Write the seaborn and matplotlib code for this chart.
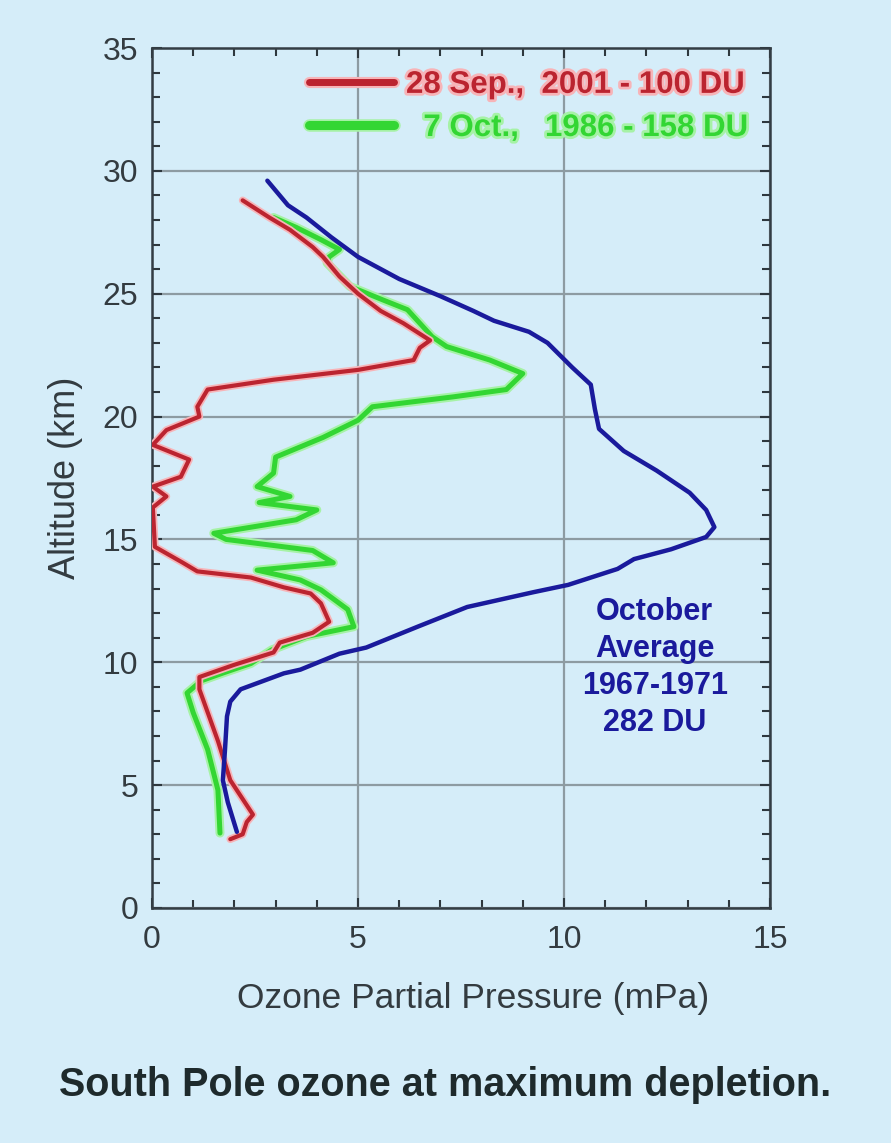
import numpy as np
import pandas as pd
import matplotlib
matplotlib.use("Agg")
import matplotlib.pyplot as plt
import matplotlib.patheffects as pe
from matplotlib.lines import Line2D
from matplotlib.ticker import MultipleLocator
import seaborn as sns

# South Pole ozonesondes, altitude (km) vs ozone partial pressure (mPa)
avg_alt = [29.6, 28.6, 28.1, 27.3, 26.5, 25.6, 24.9, 24.3, 23.9, 23.45, 23.0,
           22.0, 21.3, 20.3, 19.5, 18.6, 17.8, 16.9, 16.2, 15.5, 15.1, 14.6,
           14.2, 13.8, 13.15, 12.85, 12.25, 11.45, 10.6, 10.35, 9.7, 9.55,
           8.9, 8.4, 7.8, 6.4, 5.2, 4.3, 3.1]
avg_o3 = [2.8, 3.3, 3.75, 4.35, 5.0, 6.0, 7.0, 7.8, 8.3, 9.15, 9.6,
          10.2, 10.65, 10.75, 10.85, 11.45, 12.25, 13.05, 13.45, 13.65, 13.45, 12.6,
          11.7, 11.3, 10.1, 9.25, 7.65, 6.45, 5.2, 4.55, 3.6, 3.2,
          2.15, 1.9, 1.82, 1.77, 1.72, 1.84, 2.06]

sep2001_alt = [28.8, 28.1, 27.6, 26.9, 26.5, 25.7, 25.0, 24.3, 23.8, 23.1, 22.8,
               22.3, 21.9, 21.5, 21.1, 20.4, 20.0, 19.45, 18.85, 18.25, 17.55,
               17.15, 16.75, 16.3, 14.7, 14.05, 13.7, 13.45, 13.05, 12.8, 12.4,
               11.65, 11.2, 10.8, 10.4, 9.9, 9.4, 8.9, 6.8, 5.2, 3.8, 3.5, 3.0, 2.8]
sep2001_o3 = [2.2, 2.85, 3.35, 3.9, 4.15, 4.55, 5.0, 5.55, 6.1, 6.75, 6.5,
              6.35, 5.0, 2.95, 1.35, 1.1, 1.15, 0.35, 0.02, 0.9, 0.7,
              0.02, 0.35, 0.02, 0.07, 0.75, 1.1, 2.4, 3.2, 3.85, 4.1,
              4.3, 3.9, 3.1, 2.95, 2.0, 1.15, 1.15, 1.6, 1.9, 2.45, 2.3, 2.2, 1.9]

oct1986_alt = [28.1, 27.7, 27.2, 26.8, 26.5, 26.25, 25.3, 24.75, 24.35, 23.25,
               22.85, 22.3, 21.75, 21.1, 20.8, 20.4, 19.85, 19.15, 18.35, 17.7,
               17.15, 16.75, 16.5, 16.2, 15.8, 15.25, 15.0, 14.55, 14.05, 13.75,
               13.35, 12.95, 12.15, 11.45, 11.05, 10.5, 9.95, 9.55, 9.25, 8.75,
               7.95, 6.45, 4.8, 3.05]
oct1986_o3 = [2.95, 3.5, 4.1, 4.55, 4.3, 4.25, 4.8, 5.6, 6.2, 6.8,
              7.15, 8.2, 9.0, 8.6, 7.3, 5.35, 5.0, 4.15, 3.0, 2.95,
              2.55, 3.35, 2.6, 4.0, 3.5, 1.5, 1.8, 3.9, 4.4, 2.55,
              3.6, 4.1, 4.75, 4.9, 3.75, 2.9, 2.4, 1.7, 1.2, 0.85,
              1.0, 1.35, 1.6, 1.65]

labels = ["28 Sep.,  2001 - 100 DU", "  7 Oct.,   1986 - 158 DU"]
avg_label = "October\nAverage\n1967-1971\n282 DU"

bg = "#d5edf9"
red, red_glow = "#bb2430", "#f7b4b8"
green, green_glow = "#33d633", "#a6f2a6"
navy = "#1a1a9c"

sns.set_theme(style="ticks")
plt.rcParams["font.family"] = ["Liberation Sans", "DejaVu Sans"]

fig = plt.figure(figsize=(8.91, 11.43), dpi=100, facecolor=bg)
ax = fig.add_axes([0.1706, 0.2056, 0.6936, 0.7524], facecolor=bg)

df_avg = pd.DataFrame({"o3": avg_o3, "alt": avg_alt})
df_sep = pd.DataFrame({"o3": sep2001_o3, "alt": sep2001_alt})
df_oct = pd.DataFrame({"o3": oct1986_o3, "alt": oct1986_alt})

sns.lineplot(data=df_oct, x="o3", y="alt", sort=False, estimator=None, ax=ax,
             color=green, lw=3.6, zorder=3, solid_joinstyle="round",
             path_effects=[pe.Stroke(linewidth=6.5, foreground=green_glow), pe.Normal()])
sns.lineplot(data=df_sep, x="o3", y="alt", sort=False, estimator=None, ax=ax,
             color=red, lw=3.0, zorder=4, solid_joinstyle="round",
             path_effects=[pe.Stroke(linewidth=5.5, foreground=red_glow), pe.Normal()])
sns.lineplot(data=df_avg, x="o3", y="alt", sort=False, estimator=None, ax=ax,
             color=navy, lw=3.2, zorder=5, solid_joinstyle="round")

ax.set_xlim(0, 15)
ax.set_ylim(0, 35)
ax.xaxis.set_major_locator(MultipleLocator(5))
ax.yaxis.set_major_locator(MultipleLocator(5))
ax.xaxis.set_minor_locator(MultipleLocator(1))
ax.yaxis.set_minor_locator(MultipleLocator(1))
ax.tick_params(which="both", direction="in", top=True, right=True,
               color="#2e383e", width=1.5)
ax.tick_params(which="major", length=7, labelsize=23, labelcolor="#333b40")
ax.tick_params(axis="x", which="major", pad=12)
ax.tick_params(axis="y", which="major", pad=10)
ax.tick_params(which="minor", length=6)
ax.grid(True, which="major", color="#8d9ba2", lw=1.6, zorder=1)
ax.set_axisbelow(True)
for s in ax.spines.values():
    s.set_color("#333d44")
    s.set_linewidth(1.8)

ax.set_xlabel("Ozone Partial Pressure (mPa)", fontsize=25.5, color="#333b40")
ax.xaxis.set_label_coords(0.52, -0.086)
ax.set_ylabel("Altitude (km)", fontsize=26, color="#333b40", labelpad=14)

ax.text(12.2, 9.78, avg_label, ha="center", va="center", fontsize=22,
        fontweight="bold", color=navy, linespacing=1.3, zorder=6)

handles = [
    Line2D([], [], color=red, lw=5,
           path_effects=[pe.Stroke(linewidth=8, foreground=red_glow), pe.Normal()]),
    Line2D([], [], color=green, lw=6.5,
           path_effects=[pe.Stroke(linewidth=9, foreground=green_glow), pe.Normal()]),
]
leg = ax.legend(handles, labels, loc="upper right", frameon=False,
                prop={"size": 22.5, "weight": "bold"}, handlelength=2.7,
                handletextpad=0.4, labelspacing=0.42, borderaxespad=0.05,
                borderpad=0.65)
for txt, c, g in zip(leg.get_texts(), [red, green], [red_glow, green_glow]):
    txt.set_color(c)
    txt.set_path_effects([pe.withStroke(linewidth=4, foreground=g)])

fig.text(0.5, 1 - 1085 / 1143, "South Pole ozone at maximum depletion.",
         ha="center", va="center", fontsize=28.5, fontweight="bold", color="#1e2a2c")

fig.savefig("out.png", dpi=100, facecolor=bg)
